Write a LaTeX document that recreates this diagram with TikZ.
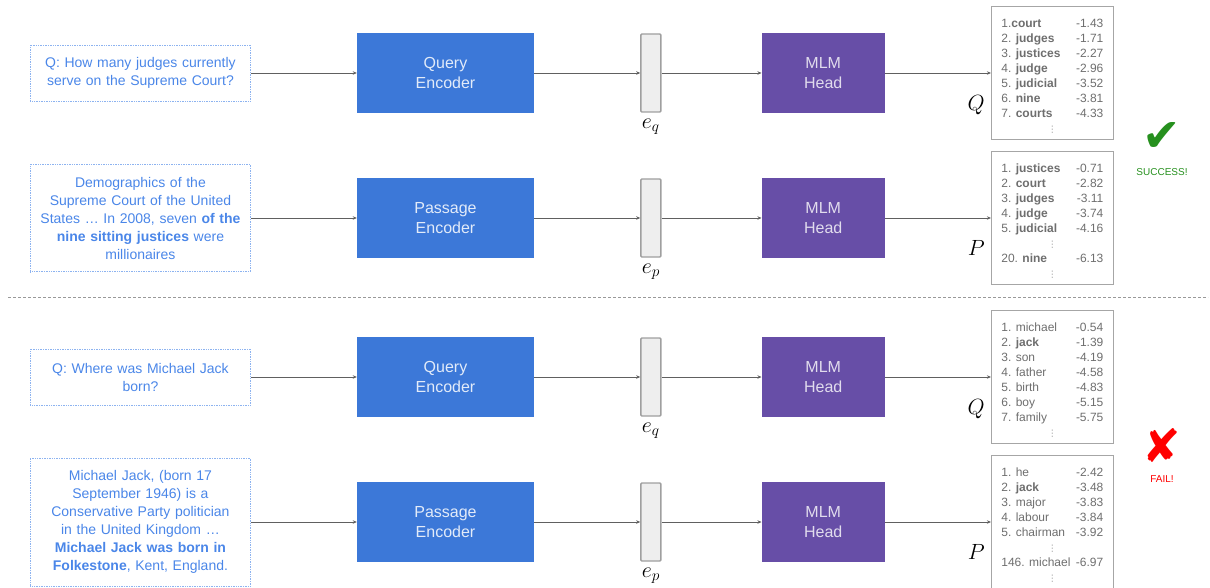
\RequirePackage{fix-cm}
\documentclass[tikz,border=0pt]{standalone}
\usepackage{fontspec}
\setmainfont{Liberation Sans}
\newfontfamily\symfont{DejaVu Sans}
\usepackage{tikz}
\usetikzlibrary{arrows.meta, positioning}
\definecolor{encblue}{HTML}{3C78D8}
\definecolor{mlmpurple}{HTML}{674EA7}
\definecolor{txtblue}{HTML}{4A86E8}
\definecolor{boxblue}{HTML}{8DB3F0}
\definecolor{vecgray}{HTML}{EEEEEE}
\definecolor{listgray}{HTML}{6E6E6E}
\definecolor{okgreen}{HTML}{26901E}
\tikzstyle{textbox} = [rectangle, draw=boxblue, densely dotted, line width=0.7pt, text=txtblue, text width=214pt, minimum width=220pt, minimum height=56pt, align=center, font=\fontsize{14}{18}\selectfont, inner xsep=3pt, inner ysep=9pt]
\tikzstyle{passagebox} = [textbox, inner ysep=12.5pt]
\tikzstyle{encoder} = [rectangle, fill=encblue, minimum width=177pt, minimum height=80pt, text=white!85!encblue, align=center, font=\fontsize{16}{20}\selectfont]
\tikzstyle{mlm} = [rectangle, fill=mlmpurple, minimum width=123pt, minimum height=80pt, text=white!80!mlmpurple, align=center, font=\fontsize{16}{20}\selectfont]
\tikzstyle{vec} = [rectangle, draw=gray!75, fill=vecgray, line width=1.3pt, rounded corners=1pt, minimum width=20pt, minimum height=78pt]
\tikzstyle{veclabel} = [font=\fontsize{22}{22}\selectfont, inner sep=1pt]
\tikzstyle{scores} = [rectangle, draw=gray!70, line width=0.9pt, minimum width=122pt, minimum height=133pt, text=listgray, font=\fontsize{12}{15}\selectfont, inner sep=0pt]
\tikzstyle{arrow} = [draw=gray!75!black, line width=0.8pt, -{Stealth[length=4pt,width=3.5pt]}]
\newcommand{\scorelist}[1]{\begin{tabular*}{102pt}{@{}l@{\extracolsep{\fill}}r@{}}\noalign{\vskip8pt}#1\end{tabular*}}
\newcommand{\more}{\multicolumn{2}{c}{\color{gray!80}\symfont\fontsize{9}{9}\selectfont ⋮}}

\begin{document}
\begin{tikzpicture}[x=1pt, y=-1pt]
	\useasboundingbox (0,0) rectangle (1210,588);
	\node (QueryEncoder1) [encoder] at (445.5,73) {Query\\Encoder};
	\node (Question1) [textbox, left = 106pt of QueryEncoder1] {Q: How many judges currently\\serve on the Supreme Court?};
	\node (QueryVector1) [vec, right = 106pt of QueryEncoder1] {};
	\node (LabelEq1) [veclabel, below = 5pt of QueryVector1] {$e_q$};
	\node (MLMHead1) [mlm, right = 100pt of QueryVector1] {MLM\\Head};
	\node (ScoresQ1) [scores, right = 106pt of MLMHead1] {\scorelist{
		1.\textbf{court} & -1.43\\
		2. \textbf{judges} & -1.71\\
		3. \textbf{justices} & -2.27\\
		4. \textbf{judge} & -2.96\\
		5. \textbf{judicial} & -3.52\\
		6. \textbf{nine} & -3.81\\
		7. \textbf{courts} & -4.33\\
		\more}};
	\node (LabelQ1) [veclabel, anchor=north east] at ([xshift=-5pt, yshift=-21pt]ScoresQ1.west) {$Q$};
	\draw [arrow] (Question1.east) -- (QueryEncoder1.west);
	\draw [arrow] (QueryEncoder1.east) -- (QueryVector1.west);
	\draw [arrow] (QueryVector1.east) -- (MLMHead1.west);
	\draw [arrow] (MLMHead1.east) -- (ScoresQ1.west);

	\node (PassageEncoder1) [encoder] at (445.5,218) {Passage\\Encoder};
	\node (Passage1) [passagebox, left = 106pt of PassageEncoder1] {Demographics of the\\Supreme Court of the United\\States \dots\ In 2008, seven \textbf{of the}\\\textbf{nine sitting justices} were\\millionaires};
	\node (PassageVector1) [vec, right = 106pt of PassageEncoder1] {};
	\node (LabelEp1) [veclabel, below = 5pt of PassageVector1] {$e_p$};
	\node (MLMHead2) [mlm, right = 100pt of PassageVector1] {MLM\\Head};
	\node (ScoresP1) [scores, right = 106pt of MLMHead2] {\scorelist{
		1. \textbf{justices} & -0.71\\
		2. \textbf{court} & -2.82\\
		3. \textbf{judges} & -3.11\\
		4. \textbf{judge} & -3.74\\
		5. \textbf{judicial} & -4.16\\
		\more\\
		20. \textbf{nine} & -6.13\\
		\more}};
	\node (LabelP1) [veclabel, anchor=north east] at ([xshift=-5pt, yshift=-21pt]ScoresP1.west) {$P$};
	\draw [arrow] (Passage1.east) -- (PassageEncoder1.west);
	\draw [arrow] (PassageEncoder1.east) -- (PassageVector1.west);
	\draw [arrow] (PassageVector1.east) -- (MLMHead2.west);
	\draw [arrow] (MLMHead2.east) -- (ScoresP1.west);

	\node (Success) [text=okgreen, font=\symfont\fontsize{46}{46}\selectfont, inner sep=0pt] at (1162,137) {✔};
	\node (SuccessText) [text=okgreen, font=\fontsize{10}{12}\selectfont, below = 13pt of Success] {SUCCESS!};

	\coordinate (SepLeft) at (8,297);
	\coordinate (SepRight) at (1208,297);
	\draw [gray!80, line width=0.8pt, dash pattern=on 3pt off 2pt] (SepLeft) -- (SepRight);

	\node (QueryEncoder2) [encoder] at (445.5,377) {Query\\Encoder};
	\node (Question2) [textbox, left = 106pt of QueryEncoder2] {Q: Where was Michael Jack\\born?};
	\node (QueryVector2) [vec, right = 106pt of QueryEncoder2] {};
	\node (LabelEq2) [veclabel, below = 5pt of QueryVector2] {$e_q$};
	\node (MLMHead3) [mlm, right = 100pt of QueryVector2] {MLM\\Head};
	\node (ScoresQ2) [scores, right = 106pt of MLMHead3] {\scorelist{
		1. michael & -0.54\\
		2. \textbf{jack} & -1.39\\
		3. son & -4.19\\
		4. father & -4.58\\
		5. birth & -4.83\\
		6. boy & -5.15\\
		7. family & -5.75\\
		\more}};
	\node (LabelQ2) [veclabel, anchor=north east] at ([xshift=-5pt, yshift=-21pt]ScoresQ2.west) {$Q$};
	\draw [arrow] (Question2.east) -- (QueryEncoder2.west);
	\draw [arrow] (QueryEncoder2.east) -- (QueryVector2.west);
	\draw [arrow] (QueryVector2.east) -- (MLMHead3.west);
	\draw [arrow] (MLMHead3.east) -- (ScoresQ2.west);

	\node (PassageEncoder2) [encoder] at (445.5,522) {Passage\\Encoder};
	\node (Passage2) [passagebox, left = 106pt of PassageEncoder2] {Michael Jack, (born 17\\September 1946) is a\\Conservative Party politician\\in the United Kingdom \dots\\\textbf{Michael Jack was born in}\\\textbf{Folkestone}, Kent, England.};
	\node (PassageVector2) [vec, right = 106pt of PassageEncoder2] {};
	\node (LabelEp2) [veclabel, below = 5pt of PassageVector2] {$e_p$};
	\node (MLMHead4) [mlm, right = 100pt of PassageVector2] {MLM\\Head};
	\node (ScoresP2) [scores, right = 106pt of MLMHead4] {\scorelist{
		1. he & -2.42\\
		2. \textbf{jack} & -3.48\\
		3. major & -3.83\\
		4. labour & -3.84\\
		5. chairman & -3.92\\
		\more\\
		146. michael & -6.97\\
		\more}};
	\node (LabelP2) [veclabel, anchor=north east] at ([xshift=-5pt, yshift=-21pt]ScoresP2.west) {$P$};
	\draw [arrow] (Passage2.east) -- (PassageEncoder2.west);
	\draw [arrow] (PassageEncoder2.east) -- (PassageVector2.west);
	\draw [arrow] (PassageVector2.east) -- (MLMHead4.west);
	\draw [arrow] (MLMHead4.east) -- (ScoresP2.west);

	\node (Fail) [text=red, font=\symfont\fontsize{46}{46}\selectfont, inner sep=0pt] at (1162,445) {✘};
	\node (FailText) [text=red, font=\fontsize{10}{12}\selectfont, below = 10pt of Fail] {FAIL!};
\end{tikzpicture}
\end{document}
